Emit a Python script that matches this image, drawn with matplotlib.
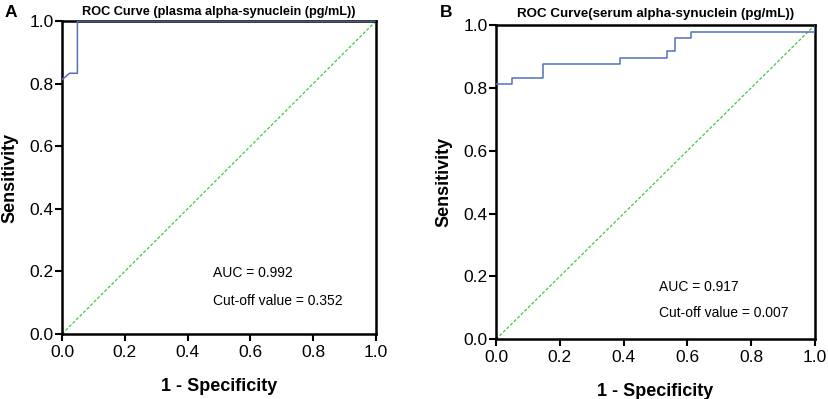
import matplotlib
matplotlib.use("Agg")
from matplotlib import pyplot as plt

plt.rcParams['font.family'] = ['Liberation Sans', 'DejaVu Sans']

# panel A: plasma
fpr_a = [0.0, 0.024, 0.049, 0.049, 1.0]
tpr_a = [0.8125, 0.833, 0.833, 1.0, 1.0]

# panel B: serum
fpr_b = [0.0, 0.049, 0.049, 0.146, 0.146, 0.390, 0.390, 0.537, 0.537, 0.561, 0.561, 0.610, 0.610, 1.0, 1.0]
tpr_b = [0.8125, 0.8125, 0.833, 0.833, 0.875, 0.875, 0.896, 0.896, 0.917, 0.917, 0.958, 0.958, 0.979, 0.979, 1.0]

titles = ["ROC Curve (plasma alpha-synuclein (pg/mL))", "ROC Curve(serum alpha-synuclein (pg/mL))"]
letters = ["A", "B"]
auc_txt = ["AUC = 0.992", "AUC = 0.917"]
cut_txt = ["Cut-off value = 0.352", "Cut-off value = 0.007"]
ticks = [0.0, 0.2, 0.4, 0.6, 0.8, 1.0]

fig = plt.figure(figsize=(8.29, 3.99), dpi=100)
ax_a = fig.add_axes([0.0748, 0.1629, 0.3788, 0.7845])
ax_b = fig.add_axes([0.5983, 0.1496, 0.3848, 0.7877])

curves = [(fpr_a, tpr_a), (fpr_b, tpr_b)]
text_pos = [((0.48, 0.195), (0.48, 0.105)), ((0.51, 0.167), (0.51, 0.084))]
letter_x = [0.005, 0.531]
title_size = [9.2, 9.6]
title_pad = [4, 6]

for i, ax in enumerate([ax_a, ax_b]):
	x, y = curves[i]
	ax.plot([0, 1], [0, 1], color='#3ecb3e', lw=0.9, ls=(0, (2.5, 1.5)), zorder=2)
	ax.plot(x, y, color='#5470c0', lw=1.1, zorder=3)
	ax.set_xlim(0, 1)
	ax.set_ylim(0, 1)
	ax.set_xticks(ticks)
	ax.set_yticks(ticks)
	ax.set_xticklabels(["%.1f" % t for t in ticks])
	ax.set_yticklabels(["%.1f" % t for t in ticks])
	ax.tick_params(direction='out', length=5, width=1.5, labelsize=12.5, colors='black')
	ax.tick_params(axis='x', pad=3)
	ax.tick_params(axis='y', pad=1)
	for s in ax.spines.values():
		s.set_linewidth(1.8)
	ax.set_xlabel("1 - Specificity", fontsize=13, fontweight='bold', labelpad=13)
	ax.set_ylabel("Sensitivity", fontsize=13, fontweight='bold', labelpad=8)
	ax.set_title(titles[i], fontsize=title_size[i], fontweight='bold', pad=title_pad[i])
	ax.text(text_pos[i][0][0], text_pos[i][0][1], auc_txt[i], fontsize=10, va='center')
	ax.text(text_pos[i][1][0], text_pos[i][1][1], cut_txt[i], fontsize=10, va='center')
	fig.text(letter_x[i], 0.968, letters[i], fontsize=12.5, fontweight='bold', va='center')

fig.savefig("out.png", dpi=100)
